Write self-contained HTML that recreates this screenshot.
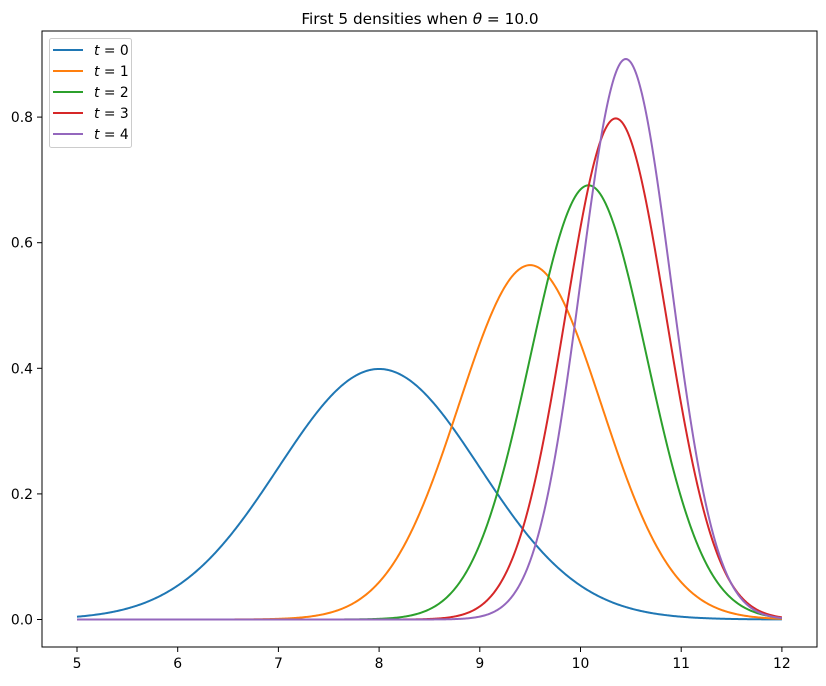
<!DOCTYPE html>
<html><head><meta charset="utf-8"><style>
body{margin:0;background:#fff;}
svg text{font-family:"DejaVu Sans","Liberation Sans",sans-serif;}
</style></head><body>
<svg id="chart" width="826" height="681" xmlns="http://www.w3.org/2000/svg">
<text x="420" y="24" font-size="15.3" text-anchor="middle">First 5 densities when <tspan font-style="italic">θ</tspan> = 10.0</text>
<g id="plot"></g>
<rect x="42" y="31" width="775" height="616" fill="none" stroke="#000" stroke-width="1"/>
<g id="axes"></g>
<g id="legend"></g>
</svg>
<script>
const seriesLabels=["0","1","2","3","4"];
const seriesMeans=[8.0,9.5,10.08,10.35,10.45];
const seriesSds=[1.0,0.707,0.577,0.5,0.447];
const colors=["#1f77b4","#ff7f0e","#2ca02c","#d62728","#9467bd"];
const xTicks=[5,6,7,8,9,10,11,12];
const yTicks=[0.0,0.2,0.4,0.6,0.8];
const xMin=5,xMax=12;
const NS="http://www.w3.org/2000/svg";
function xs(v){return 77+(v-5)*100.7;}
function ys(v){return 619.5-v*628;}
const plot=document.getElementById('plot');
const axes=document.getElementById('axes');
const legend=document.getElementById('legend');
function mk(t,a,p){const e=document.createElementNS(NS,t);for(const k in a)e.setAttribute(k,a[k]);p.appendChild(e);return e;}
seriesMeans.forEach((m,i)=>{
  const s=seriesSds[i];let d="";
  for(let k=0;k<=700;k++){const x=xMin+(xMax-xMin)*k/700;const y=Math.exp(-0.5*((x-m)/s)**2)/(s*Math.sqrt(2*Math.PI));d+=(k?"L":"M")+xs(x).toFixed(2)+","+ys(y).toFixed(2);}
  const p=mk('path',{d:d,fill:'none',stroke:colors[i],'stroke-width':2},plot);
  
  
});
xTicks.forEach(v=>{
  const l=mk('line',{x1:xs(v),x2:xs(v),y1:647,y2:652,stroke:'#000'},axes);
  
  
  const t=mk('text',{x:xs(v),y:668,'font-size':13.9,'text-anchor':'middle'},axes);t.textContent=v;
  
  
});
yTicks.forEach(v=>{
  const l=mk('line',{x1:37,x2:42,y1:ys(v),y2:ys(v),stroke:'#000'},axes);
  
  
  const t=mk('text',{x:33,y:ys(v)+5,'font-size':13.9,'text-anchor':'end'},axes);t.textContent=v.toFixed(1);
  
  
});
const box=mk('rect',{x:49.5,y:38.5,width:82,height:109,rx:2,fill:'#fff','fill-opacity':0.8,stroke:'#ccc'},legend);


seriesLabels.forEach((lab,i)=>{
  const y=50+i*21;
  const g=mk('g',{},legend);
  
  
  mk('line',{x1:53,x2:83,y1:y,y2:y,stroke:colors[i],'stroke-width':2},g);
  const t=mk('text',{x:94,y:y+5,'font-size':13.9},g);
  t.innerHTML='<tspan font-style="italic">t</tspan> = '+lab;
});
</script>
</body></html>
